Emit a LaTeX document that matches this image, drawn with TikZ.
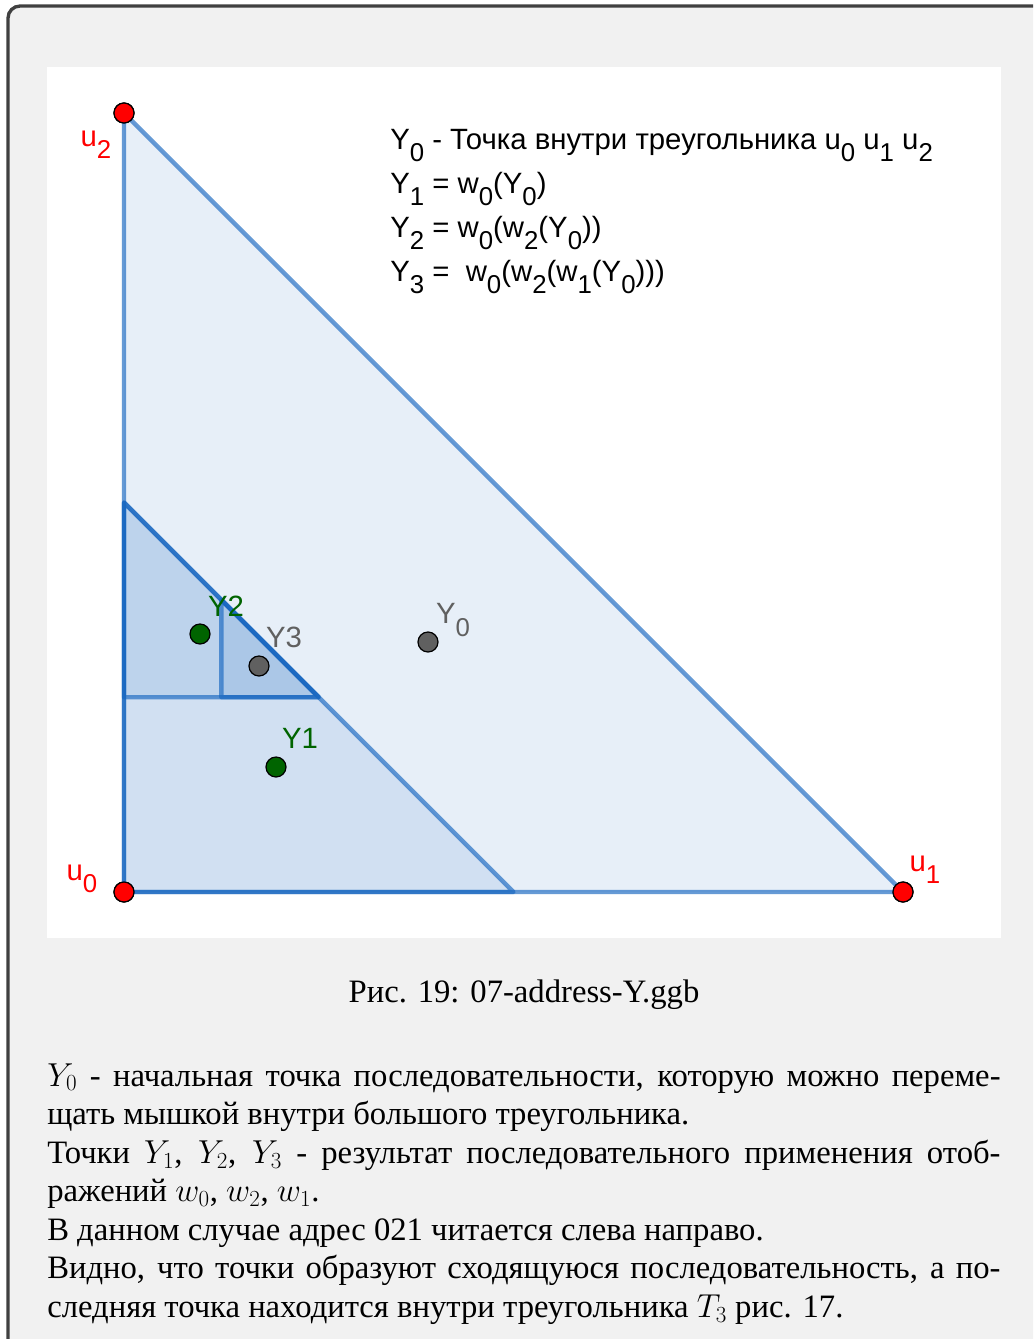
\documentclass[tikz,border=0pt]{standalone}
\usepackage{fontspec}
\setmainfont{Liberation Serif}
\newfontfamily\ggbfont{Liberation Sans}
\usepackage{xcolor}
\usepackage{graphicx}
\usetikzlibrary{calc}

\definecolor{ggbblue}{RGB}{21,101,192}
\definecolor{ggbred}{RGB}{255,0,0}
\definecolor{ggbgreen}{RGB}{0,100,0}
\definecolor{ggbgray}{RGB}{96,96,96}
\definecolor{pagegray}{RGB}{241,241,241}
\definecolor{framegray}{RGB}{64,64,64}
\newcommand{\gsub}[1]{\raisebox{-0.42em}{\scalebox{0.88}{#1}}}

\begin{document}
\begin{tikzpicture}[x=0.75pt,y=-0.75pt,every node/.style={inner sep=0pt}]
\tikzstyle{tri}=[draw=ggbblue,draw opacity=0.65,fill=ggbblue,fill opacity=0.1,line width=3.2pt,line join=round]
\tikzstyle{pt}=[circle,draw=black,line width=0.9pt,minimum size=15pt]
\tikzstyle{lbl}=[font=\ggbfont\fontsize{22}{26}\selectfont]
\tikzstyle{formula}=[lbl,anchor=base west]
\tikzstyle{body}=[font=\fontsize{24.5}{28.9}\selectfont]

\useasboundingbox (0,0) rectangle (1033,1339);
\clip (0,0) rectangle (1033,1339);
% page frame
\draw[framegray,line width=2.5pt,fill=pagegray,rounded corners=9pt] (8,6) rectangle (1070,1380);
\fill[white] (47,67) rectangle (1001,938);

% vertices
\node[pt,fill=ggbred] (u0) at (124,892) {};
\node[pt,fill=ggbred] (u1) at (903,892) {};
\node[pt,fill=ggbred] (u2) at (124,113) {};
\coordinate (a) at ($(u0.center)!0.5!(u1.center)$);
\coordinate (b) at ($(u0.center)!0.5!(u2.center)$);
\coordinate (c) at ($(u0.center)!0.5!(b)$);
\coordinate (d) at ($(a)!0.5!(b)$);
\coordinate (e) at ($(c)!0.5!(d)$);
\coordinate (f) at ($(b)!0.5!(d)$);

% triangles
\path[tri] (u0.center) -- (u1.center) -- (u2.center) -- cycle;
\path[tri] (u0.center) -- (a) -- (b) -- cycle;
\path[tri] (c) -- (d) -- (b) -- cycle;
\path[tri] (e) -- (d) -- (f) -- cycle;
\node[pt,fill=ggbred] at (u0) {};
\node[pt,fill=ggbred] at (u1) {};
\node[pt,fill=ggbred] at (u2) {};

% sequence points
\node[pt,fill=ggbgray] (y0) at (428,642) {};
\node[pt,fill=ggbgreen] (y1) at (276,767) {};
\node[pt,fill=ggbgreen] (y2) at (200,634) {};
\node[pt,fill=ggbgray] (y3) at (259,666) {};

\node[lbl,text=ggbred] (lu2) at (96,145) {u\gsub{2}};
\node[lbl,text=ggbred] (lu0) at (82,879) {u\gsub{0}};
\node[lbl,text=ggbred] (lu1) at (925,870) {u\gsub{1}};
\node[lbl,text=ggbgray] (ly0) at (453,620) {Y\gsub{0}};
\node[lbl,text=ggbgreen] (ly1) at (300,738) {Y1};
\node[lbl,text=ggbgreen] (ly2) at (226,606) {Y2};
\node[lbl,text=ggbgray] (ly3) at (284,637) {Y3};

\node[formula] (f0) at (390,149) {Y\gsub{0} - Точка внутри треугольника u\gsub{0} u\gsub{1} u\gsub{2}};
\node[formula] (f1) at (390,193) {Y\gsub{1} = w\gsub{0}(Y\gsub{0})};
\node[formula] (f2) at (390,237) {Y\gsub{2} = w\gsub{0}(w\gsub{2}(Y\gsub{0}))};
\node[formula] (f3) at (390,281) {Y\gsub{3} = \ w\gsub{0}(w\gsub{2}(w\gsub{1}(Y\gsub{0})))};

\node[body,anchor=base] (cap) at (524,1002) {Рис. 19: 07-address-Y.ggb};

\node[body,anchor=base west] (txt) at (47,1086) {\begin{minipage}[t]{715pt}\setlength{\parindent}{0pt}%
$Y_0$ - начальная точка последовательности, которую можно переме-\linebreak щать мышкой внутри большого треугольника.\par
Точки $Y_1$, $Y_2$, $Y_3$ - результат последовательного применения отоб-\linebreak ражений $w_0$, $w_2$, $w_1$.\par
В данном случае адрес 021 читается слева направо.\par
Видно, что точки образуют сходящуюся последовательность, а по-\linebreak следняя точка находится внутри треугольника $T_3$ рис. 17.
\end{minipage}};
\end{tikzpicture}
\end{document}
